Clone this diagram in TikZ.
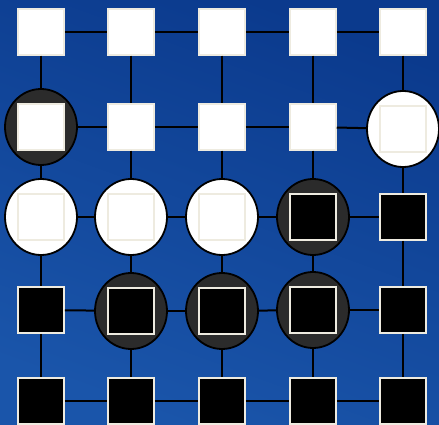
\documentclass[tikz,border=0pt]{standalone}
\usepackage{tikz}
\usetikzlibrary{shapes.geometric}

\definecolor{bgtop}{HTML}{0B3A8D}
\definecolor{bgbot}{HTML}{1A55AA}
\definecolor{cream}{HTML}{EEEBE0}
\definecolor{disc}{HTML}{2B2B2B}

\begin{document}
\begin{tikzpicture}[x=1pt,y=-1pt,line width=2pt,
  every node/.style={inner sep=0pt},
  wsq/.style={rectangle,fill=white,draw=cream,line width=1.5pt,minimum size=46pt},
  bsq/.style={rectangle,fill=black,draw=cream,line width=1.6pt,minimum size=46pt},
  wdisc/.style={ellipse,fill=white,draw=black,line width=1.8pt,minimum width=72pt,minimum height=76pt},
  ddisc/.style={ellipse,fill=disc,draw=black,line width=1.8pt,minimum width=72pt,minimum height=76pt}]
  \shade[top color=bgtop,bottom color=bgbot,shading angle=-20] (0,0) rectangle (439,425);
  \useasboundingbox (0,0) rectangle (439,425);

  % row 1
  \node[wsq] (n-1-1) at (41,32) {};
  \node[wsq] (n-1-2) at (131,32) {};
  \node[wsq] (n-1-3) at (222,32) {};
  \node[wsq] (n-1-4) at (313,32) {};
  \node[wsq] (n-1-5) at (403,32) {};
  % row 2
  \node[ddisc] (n-2-1) at (41,127) {};
  \node[wsq] (s-2-1) at (41,127) {};
  \node[wsq] (n-2-2) at (131,127) {};
  \node[wsq] (n-2-3) at (222,127) {};
  \node[wsq] (n-2-4) at (313,127) {};
  \node[wdisc] (n-2-5) at (403,129) {};
  \node[wsq] (s-2-5) at (403,129) {};
  % row 3
  \node[wdisc] (n-3-1) at (41,217) {};
  \node[wsq] (s-3-1) at (41,217) {};
  \node[wdisc] (n-3-2) at (131,217) {};
  \node[wsq] (s-3-2) at (131,217) {};
  \node[wdisc] (n-3-3) at (222,217) {};
  \node[wsq] (s-3-3) at (222,217) {};
  \node[ddisc] (n-3-4) at (313,217) {};
  \node[bsq] (s-3-4) at (313,217) {};
  \node[bsq] (n-3-5) at (403,217) {};
  % row 4
  \node[bsq] (n-4-1) at (41,310) {};
  \node[ddisc] (n-4-2) at (131,311) {};
  \node[bsq] (s-4-2) at (131,311) {};
  \node[ddisc] (n-4-3) at (222,311) {};
  \node[bsq] (s-4-3) at (222,311) {};
  \node[ddisc] (n-4-4) at (313,310) {};
  \node[bsq] (s-4-4) at (313,310) {};
  \node[bsq] (n-4-5) at (403,310) {};
  % row 5
  \node[bsq] (n-5-1) at (41,401) {};
  \node[bsq] (n-5-2) at (131,401) {};
  \node[bsq] (n-5-3) at (222,401) {};
  \node[bsq] (n-5-4) at (313,401) {};
  \node[bsq] (n-5-5) at (403,401) {};

  % grid links
  \foreach \i in {1,...,5}
    \foreach \a/\b in {1/2,2/3,3/4,4/5} {
      \draw (n-\i-\a) -- (n-\i-\b);
      \draw (n-\a-\i) -- (n-\b-\i);
    }
\end{tikzpicture}
\end{document}
